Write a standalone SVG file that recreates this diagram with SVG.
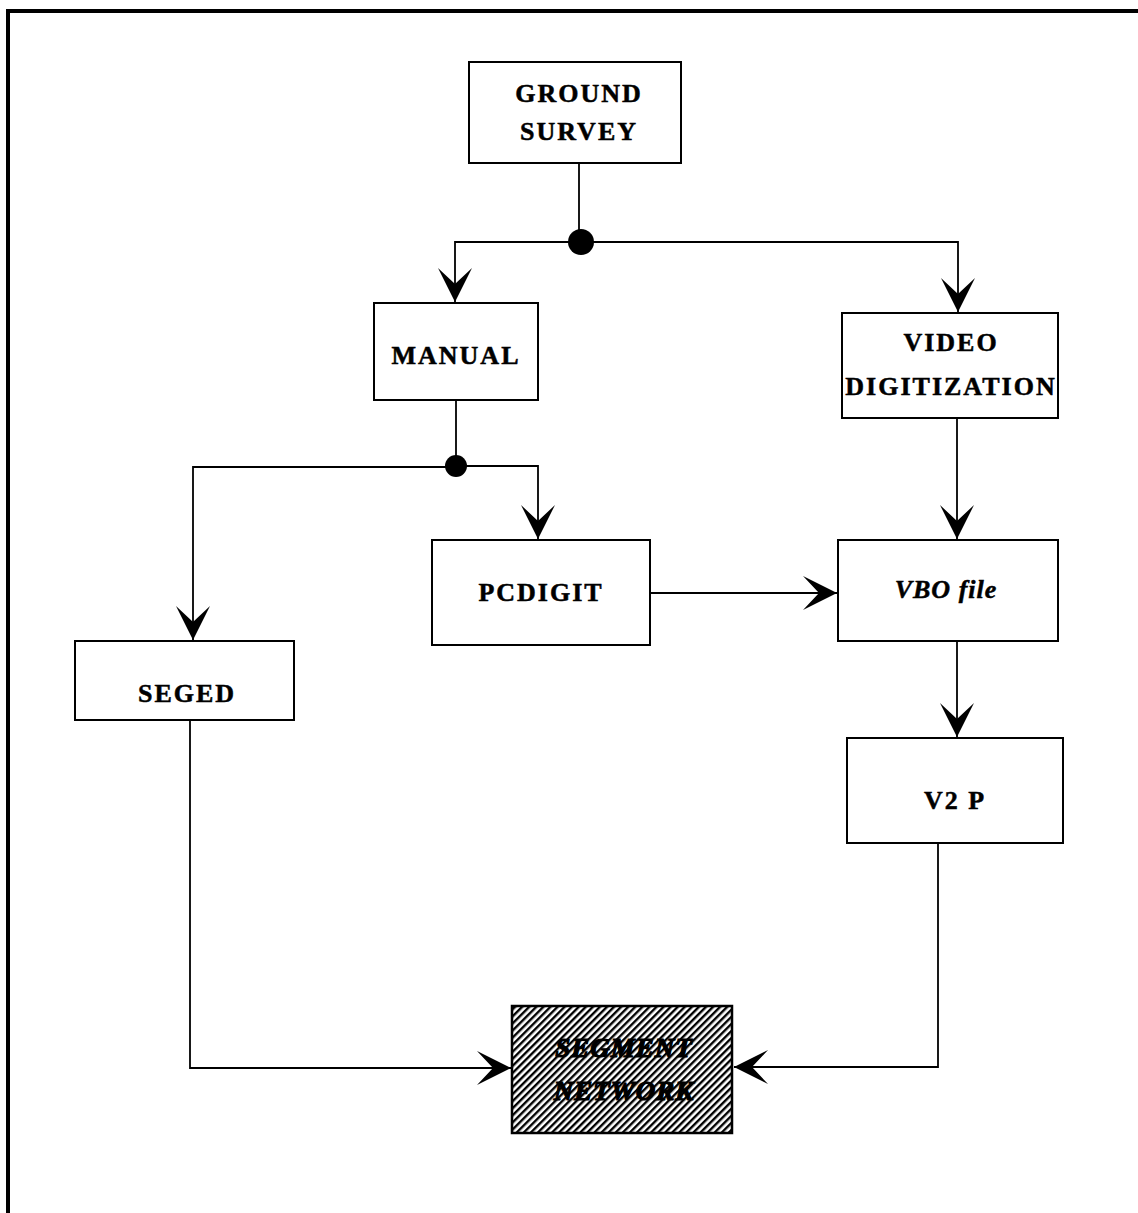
<svg xmlns="http://www.w3.org/2000/svg" width="1138" height="1213" viewBox="0 0 1138 1213">
<style>
.box{fill:#fff;stroke:#000;stroke-width:2}
.t{font-family:"Liberation Serif","Times New Roman",serif;font-weight:bold;font-size:26px;letter-spacing:2px;text-anchor:middle;fill:#000;stroke:#000;stroke-width:0.5}
.it{font-style:italic;letter-spacing:1px}
.c{fill:none;stroke:#000;stroke-width:1.8}
.st{stroke:#000;stroke-width:1.2;font-size:27px}
</style>
<defs>
<marker id="ah" markerUnits="userSpaceOnUse" markerWidth="40" markerHeight="44" refX="36" refY="20" orient="auto" viewBox="0 0 40 40">
<path d="M36,20 L2,3 L18,20 L2,37 Z" fill="#000"/>
</marker>
<pattern id="hatch" patternUnits="userSpaceOnUse" width="5" height="5" patternTransform="rotate(45)">
<rect width="5" height="5" fill="#fff"/>
<rect width="2.4" height="5" fill="#000"/>
</pattern>
</defs>
<rect width="1138" height="1213" fill="#fff"/>
<path d="M8,1213 V11 H1138" fill="none" stroke="#000" stroke-width="4"/>
<g id="connectors">
<path class="c" d="M579,163 V242"/>
<path class="c" d="M581,242 H455 V302" marker-end="url(#ah)"/>
<path class="c" d="M581,242 H958 V312" marker-end="url(#ah)"/>
<circle cx="581" cy="242" r="13" fill="#000"/>
<path class="c" d="M456,400 V466"/>
<path class="c" d="M456,467 H193 V640" marker-end="url(#ah)"/>
<path class="c" d="M456,466 H538 V539" marker-end="url(#ah)"/>
<circle cx="456" cy="466" r="11" fill="#000"/>
<path class="c" d="M650,593 H837" marker-end="url(#ah)"/>
<path class="c" d="M957,418 V539" marker-end="url(#ah)"/>
<path class="c" d="M957,641 V737" marker-end="url(#ah)"/>
<path class="c" d="M190,720 V1068 H511" marker-end="url(#ah)"/>
<path class="c" d="M938,843 V1067 H734" marker-end="url(#ah)"/>
</g>
<g id="ground-survey">
<rect class="box" x="469" y="62" width="212" height="101"/>
<text class="t" x="579" y="102">GROUND</text>
<text class="t" x="579" y="140">SURVEY</text>
</g>
<g id="manual">
<rect class="box" x="374" y="303" width="164" height="97"/>
<text class="t" x="456" y="364">MANUAL</text>
</g>
<g id="video-digitization">
<rect class="box" x="842" y="313" width="216" height="105"/>
<text class="t" x="951" y="351">VIDEO</text>
<text class="t" x="951" y="395">DIGITIZATION</text>
</g>
<g id="pcdigit">
<rect class="box" x="432" y="540" width="218" height="105"/>
<text class="t" x="541" y="601">PCDIGIT</text>
</g>
<g id="vbo-file">
<rect class="box" x="838" y="540" width="220" height="101"/>
<text class="t it" x="946" y="598">VBO  file</text>
</g>
<g id="seged">
<rect class="box" x="75" y="641" width="219" height="79"/>
<text class="t" x="187" y="702">SEGED</text>
</g>
<g id="v2p">
<rect class="box" x="847" y="738" width="216" height="105"/>
<text class="t" x="955" y="809">V2 P</text>
</g>
<g id="segment-network">
<rect x="512" y="1006" width="220" height="127" fill="url(#hatch)" stroke="#000" stroke-width="2.5"/>
<text class="t it st" x="624" y="1057">SEGMENT</text>
<text class="t it st" x="624" y="1100">NETWORK</text>
</g>
</svg>
